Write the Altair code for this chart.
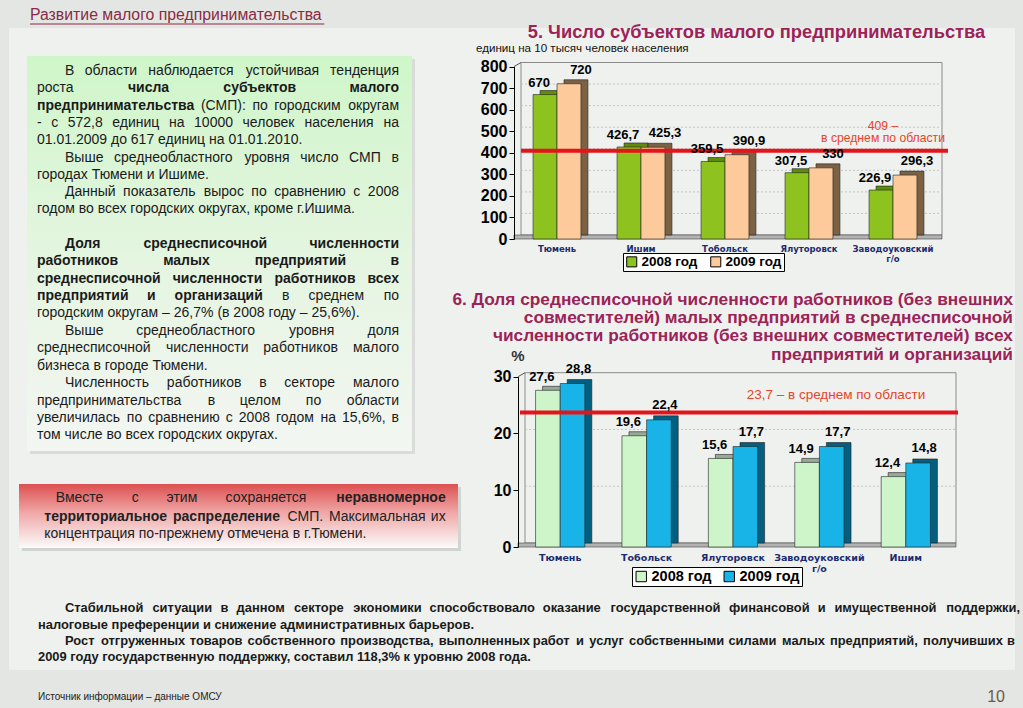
import altair as alt
import pandas as pd

# ------------------------------------------------------------------ data
cities_smp = ["Тюмень", "Ишим", "Тобольск", "Ялуторовск", "Заводоуковский г/о"]
smp_2008 = [670, 426.7, 359.5, 307.5, 226.9]
smp_2009 = [720, 425.3, 390.9, 330, 296.3]
smp_region_avg = 409
smp_ticks = [0, 100, 200, 300, 400, 500, 600, 700, 800]

cities_share = ["Тюмень", "Тобольск", "Ялуторовск", "Заводоуковский г/о", "Ишим"]
share_2008 = [27.6, 19.6, 15.6, 14.9, 12.4]
share_2009 = [28.8, 22.4, 17.7, 17.7, 14.8]
share_region_avg = 23.7
share_ticks = [0, 10, 20, 30]

years = ["2008 год", "2009 год"]

page_title = "Развитие малого предпринимательства"
title_smp = "5. Число субъектов малого предпринимательства"
subtitle_smp = "единиц на 10 тысяч человек населения"
title_share = [
    "6. Доля среднесписочной численности работников (без внешних",
    "совместителей) малых предприятий в среднесписочной",
    "численности работников (без внешних совместителей) всех",
    "предприятий и организаций",
]
avg_text = "в среднем по области"

# left green box (word prefixed with * is bold); (justified?, indent?, text)
left_text = [
    (True, True, "В области наблюдается устойчивая тенденция"),
    (True, False, "роста *числа *субъектов *малого"),
    (True, False, "*предпринимательства (СМП): по городским округам"),
    (True, False, "- с 572,8 единиц на 10000 человек населения на"),
    (False, False, "01.01.2009 до 617 единиц на 01.01.2010."),
    (True, True, "Выше среднеобластного уровня число СМП в"),
    (False, False, "городах Тюмени и Ишиме."),
    (True, True, "Данный показатель вырос по сравнению с 2008"),
    (False, False, "годом во всех городских округах, кроме г.Ишима."),
    None,
    (True, True, "*Доля *среднесписочной *численности"),
    (True, False, "*работников *малых *предприятий *в"),
    (True, False, "*среднесписочной *численности *работников *всех"),
    (True, False, "*предприятий *и *организаций в среднем по"),
    (False, False, "городским округам – 26,7% (в 2008 году – 25,6%)."),
    (True, True, "Выше среднеобластного уровня доля"),
    (True, False, "среднесписочной численности работников малого"),
    (False, False, "бизнеса в городе Тюмени."),
    (True, True, "Численность работников в секторе малого"),
    (True, False, "предпринимательства в целом по области"),
    (True, False, "увеличилась по сравнению с 2008 годом на 15,6%, в"),
    (False, False, "том числе во всех городских округах."),
]
pink_text = [
    (True, True, "Вместе с этим сохраняется *неравномерное"),
    (True, False, "*территориальное *распределение СМП. Максимальная их"),
    (False, False, "концентрация по-прежнему отмечена в г.Тюмени."),
]
bottom_text = [
    (True, True, "Стабильной ситуации в данном секторе экономики способствовало оказание государственной финансовой и имущественной поддержки,"),
    (False, False, "налоговые преференции и снижение административных барьеров."),
    (True, True, "Рост отгруженных товаров собственного производства, выполненных работ и услуг собственными силами малых предприятий, получивших в"),
    (False, False, "2009 году государственную поддержку, составил 118,3% к уровню 2008 года."),
]
footer_source = "Источник информации – данные ОМСУ"
page_number = "10"

# ------------------------------------------------------------------ style / layout
W, H = 1023, 708
SANS = "Liberation Sans, Arial, Helvetica, sans-serif"
DEJAVU = "DejaVu Sans, Verdana, sans-serif"
BG = "#e3e6e3"
PANEL = "#eef1ee"
MAROON = "#9b2357"
RED = "#e3151a"
RED_TXT = "#e8432a"
NAVY = "#1c2b6e"
DX, DY = 7, 4   # 3-D depth of the bars

ONE = pd.DataFrame({"k": [0]})

_lo = dict(zip("абвгдеёжзийклмнопрстуфхцчшщъыьэюя",
               [556, 573, 531, 365, 583, 556, 556, 669, 458, 559, 559, 438, 583, 688, 552, 556, 542,
                556, 500, 458, 500, 823, 500, 560, 531, 803, 804, 620, 714, 527, 510, 751, 539]))
_up = dict(zip("АБВГДЕЁЖЗИЙКЛМНОПРСТУФХЦЧШЩЪЫЬЭЮЯ",
               [667, 656, 667, 542, 677, 667, 667, 923, 604, 719, 719, 583, 656, 833, 722, 778, 719,
                667, 722, 611, 635, 760, 667, 740, 667, 917, 938, 792, 885, 656, 719, 1010, 722]))
_misc = {" ": 278, ".": 278, ",": 278, ":": 278, ";": 278, "(": 333, ")": 333, "-": 333,
         "–": 556, "%": 889, "/": 278}
for d in "0123456789":
    _misc[d] = 556
CW = {**_lo, **_up, **_misc}


def est(s, size, bold=False):
    w = sum(CW.get(ch, 550) for ch in s) / 1000.0 * size
    if bold:
        w *= 1.08
    return w


items = []


def T(s, x, y, size=14, weight="normal", color="#1a1a1a", align="left", font=SANS, baseline="middle"):
    items.append(dict(t=s, x=x, y=y, size=size, weight=weight, color=color, align=align,
                      font=font, baseline=baseline))


def line(spec, y, x0, x1, size, font=SANS, color="#1a1a1a", all_bold=False):
    just, _, text = spec
    words = [(w.lstrip("*"), all_bold or w.startswith("*")) for w in text.split(" ")]
    if not just:
        plain = " ".join(w for w, _ in words)
        T(plain, x0, y, size, "bold" if all(b for _, b in words) else "normal", color, "left", font)
        return
    widths = [est(w, size, b) for w, b in words]
    gap = (x1 - x0 - sum(widths)) / max(len(words) - 1, 1)
    x = x0
    for i, ((w, b), wd) in enumerate(zip(words, widths)):
        wt = "bold" if b else "normal"
        if i == len(words) - 1:
            T(w, x1, y, size, wt, color, "right", font)
        else:
            T(w, x, y, size, wt, color, "left", font)
        x += wd + gap


def rect(x, x2, y, y2, **kw):
    return alt.Chart(ONE).mark_rect(**kw).encode(
        x=alt.value(x), x2=alt.value(x2), y=alt.value(y), y2=alt.value(y2))


def seg(x, y, x2, y2, **kw):
    return alt.Chart(ONE).mark_rule(**kw).encode(
        x=alt.value(x), y=alt.value(y), x2=alt.value(x2), y2=alt.value(y2))


def grad(stops):
    return alt.Gradient(gradient="linear", x1=0, x2=0, y1=0, y2=1,
                        stops=[alt.GradientStop(offset=o, color=c) for o, c in stops])


# ------------------------------------------------------------------ backgrounds
bg_layers = [
    rect(9, 1015, 28, 670, color=PANEL),
    rect(30, 415, 59, 454, color="#d9dcd9"),
    rect(27, 412, 56, 451, color=grad([(0, "#cff6c9"), (0.55, "#e6f5e2"), (1, "#f3f6f2")])),
    rect(22, 461, 487, 551, color="#d2d4d2"),
    rect(19, 458, 484, 548, color=grad([(0, "#dc5050"), (0.45, "#f0a7a7"), (1, "#fbfbfb")])),
]

# ------------------------------------------------------------------ texts
PT_SIZE = 15.8
T(page_title, 30, 15, PT_SIZE, "normal", "#8b2a45")
title_w = est(page_title, PT_SIZE)

T(title_smp, 756.5, 33, 18.3, "bold", MAROON, "center")
T(subtitle_smp, 476, 49, 11.6, "normal", "#111")

for i, s in enumerate(title_share):
    T(s, 1013, 299.5 + i * 18.4, 17.3, "bold", MAROON, "right")
T("%", 518, 356, 15, "bold", "#333", "center")

y = 71
for spec in left_text:
    if spec is None:
        y += 17.4
        continue
    x0 = 65 if spec[1] else 37
    line(spec, y, x0, 399, 14)
    y += 17.3 if y < 300 else 17.45

pink_y = [498.3, 516.5, 533.5]
for spec, yy in zip(pink_text, pink_y):
    line(spec, yy, 55.7 if spec[1] else 44.3, 445.7, 14, color="#222")

bottom_y = [608, 625, 641, 657]
bottom_x1 = [1020, None, 1015, None]
for spec, yy, x1 in zip(bottom_text, bottom_y, bottom_x1):
    line(spec, yy, 65 if spec[1] else 38, x1 or 1015, 12.9, color="#1a1a1a", all_bold=True)

T(footer_source, 38, 697, 10, "normal", "#222", "left")
T(page_number, 1005, 697, 16, "normal", "#6b5a48", "right")


def text_layers():
    groups = {}
    for it in items:
        key = (it["size"], it["weight"], it["color"], it["align"], it["font"], it["baseline"])
        groups.setdefault(key, []).append(dict(t=it["t"], x=it["x"], y=it["y"]))
    out = []
    for (size, weight, color, align, font, base), rows in groups.items():
        out.append(
            alt.Chart(pd.DataFrame(rows)).mark_text(
                fontSize=size, fontWeight=weight, color=color, align=align, font=font, baseline=base
            ).encode(x=alt.X("x:Q", scale=None, axis=None), y=alt.Y("y:Q", scale=None, axis=None),
                     text="t:N")
        )
    return out


underline = seg(30, 24, 30 + title_w, 24, color="#8b2a45", strokeWidth=1)


# ------------------------------------------------------------------ bar charts
def fmt(v):
    return f"{v:g}".replace(".", ",")


def long_table(cities, a, b):
    rows = [dict(city=c, year=years[0], value=v, label=fmt(v)) for c, v in zip(cities, a)]
    rows += [dict(city=c, year=years[1], value=v, label=fmt(v)) for c, v in zip(cities, b)]
    return pd.DataFrame(rows)


LABEL_EXPR = ("indexof(datum.label, ' г/о') > 0 ? "
              "[replace(datum.label, ' г/о', ''), 'г/о'] : datum.label")


def bar_chart(df, cities, ymax, ticks, xr, yr, axis_x, front, side, avg, avg_x, avg_cx,
              avg_lines, avg_size, legend_xy, legend_size, cat_size, lab_offsets):
    band = dict(paddingInner=0.43, paddingOuter=0.215)
    xo = alt.XOffset("year:N", sort=years,
                     scale=alt.Scale(type="band", paddingInner=0, paddingOuter=0))

    # back: wall, floor, grid, side faces (shifted by the 3-D depth)
    ys_b = alt.Scale(domain=[0, ymax], range=[yr[0] - DY, yr[1] - DY], nice=False, zero=True)
    xs_b = alt.Scale(type="band", range=[xr[0] + DX, xr[1] + DX], **band)
    wall_x0, wall_x1 = axis_x + DX, xr[1] + DX
    wall = rect(wall_x0, wall_x1, yr[1] - DY, yr[0] - DY, fillOpacity=0, stroke="#8a8a8a",
                strokeWidth=1)
    floor = rect(axis_x, wall_x1, yr[0] - DY, yr[0], color="#b3b3b3", stroke="#444",
                 strokeWidth=0.6)
    edge = seg(axis_x, yr[1], wall_x0, yr[1] - DY, color="#555", strokeWidth=1)
    grid = alt.Chart(pd.DataFrame({"value": ticks[1:-1]})).mark_rule(
        color="#c4c4c4", strokeDash=[2, 2], strokeWidth=1
    ).encode(y=alt.Y("value:Q", scale=ys_b, axis=None), x=alt.value(wall_x0), x2=alt.value(wall_x1))
    sides = alt.Chart(df).mark_bar(stroke="#222", strokeWidth=0.6).encode(
        x=alt.X("city:N", sort=cities, scale=xs_b, axis=None),
        xOffset=xo,
        y=alt.Y("value:Q", scale=ys_b, axis=None),
        color=alt.Color("year:N", sort=years, scale=alt.Scale(domain=years, range=side), legend=None),
    )
    back = alt.layer(wall, grid, floor, edge, sides)

    # front
    xs = alt.Scale(type="band", range=list(xr), **band)
    ys = alt.Scale(domain=[0, ymax], range=list(yr), nice=False, zero=True)
    x = alt.X("city:N", sort=cities, scale=xs, title=None,
              axis=alt.Axis(orient="bottom", offset=yr[0] - H, labelExpr=LABEL_EXPR, labelAngle=0,
                            labelFont=DEJAVU, labelFontSize=cat_size, labelFontWeight="bold",
                            labelColor=NAVY, labelPadding=5, labelLineHeight=cat_size + 2,
                            ticks=False, domain=False, zindex=2, labelOverlap=False))
    y = alt.Y("value:Q", scale=ys, title=None,
              axis=alt.Axis(orient="left", offset=-axis_x, values=ticks, format="d",
                            labelFont=SANS, labelFontSize=16, labelFontWeight="bold",
                            labelColor="#000", tickColor="#000", tickSize=5, domainColor="#000",
                            labelPadding=2, grid=False, zindex=2))
    color = alt.Color("year:N", sort=years, scale=alt.Scale(domain=years, range=front),
                      legend=alt.Legend(title=None, orient="none", legendX=legend_xy[0],
                                        legendY=legend_xy[1], direction="horizontal",
                                        symbolType="square", symbolSize=legend_size * 7.5,
                                        symbolStrokeColor="#000", symbolStrokeWidth=1,
                                        labelFont=SANS, labelFontSize=legend_size,
                                        labelFontWeight="bold", labelColor="#000",
                                        strokeColor="#000", fillColor="#ffffff", padding=2,
                                        columnPadding=10, labelOffset=3, cornerRadius=0))
    bars = alt.Chart(df).mark_bar(stroke="#222", strokeWidth=0.6).encode(
        x=x, xOffset=xo, y=y, color=color)
    avg_df = pd.DataFrame({"value": [avg]})
    avg_rule = alt.Chart(avg_df).mark_rule(color=RED, strokeWidth=4).encode(
        y=y, x=alt.value(avg_x[0]), x2=alt.value(avg_x[1]))
    lab = []
    for yr_name, (dx, dy) in zip(years, lab_offsets):
        lab.append(
            alt.Chart(df).transform_filter(alt.datum.year == yr_name).mark_text(
                baseline="bottom", dx=dx, dy=dy, fontSize=13, fontWeight="bold", font=SANS,
                color="#000"
            ).encode(x=x, xOffset=xo, y=y, text="label:N")
        )
    avg_labels = []
    for txt, dy in avg_lines:
        avg_labels.append(
            alt.Chart(pd.DataFrame({"value": [avg], "t": [txt]})).mark_text(
                baseline="middle", align="center", dy=dy, fontSize=avg_size,
                font=SANS, color=RED_TXT
            ).encode(y=y, x=alt.value(avg_cx), text="t:N")
        )
    main = alt.layer(bars, avg_rule, *lab, *avg_labels)
    return back, main


back1, main1 = bar_chart(
    long_table(cities_smp, smp_2008, smp_2009), cities_smp, 800, smp_ticks,
    (515, 935), (239, 66.5), 514,
    ["#8dc21f", "#fdca9b"], ["#5f8c0c", "#7c6245"],
    smp_region_avg, (521, 948), 883,
    [(f"{fmt(smp_region_avg)} –", -24.5), (avg_text, -12.5)], 12.2, (623, 253), 13.5, 8.5,
    [(-6, -5), (12, -7)],
)
back2, main2 = bar_chart(
    long_table(cities_share, share_2008, share_2009), cities_share, 30, share_ticks,
    (517, 949), (547, 376.7), 518,
    ["#cdf5c9", "#18b4e8"], ["#98aa97", "#035f7f"],
    share_region_avg, (520, 958), 836,
    [(f"{fmt(share_region_avg)} – {avg_text}", -17)], 13.5, (632, 567), 14.5, 9.5,
    [(-6, -6.5), (6, -8)],
)

chart = alt.layer(
    *bg_layers, *text_layers(), underline, back1, main1, back2, main2
).resolve_scale(
    x="independent", y="independent", color="independent", xOffset="independent"
).properties(
    width=W, height=H, autosize=alt.AutoSizeParams(type="none"), padding=0, background=BG
).configure_view(stroke=None)

chart.save("out.html", embed_options={"renderer": "svg", "actions": False})
